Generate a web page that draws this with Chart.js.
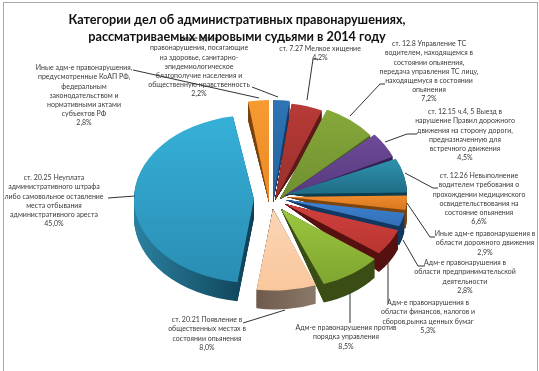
<!DOCTYPE html>
<html lang="ru">
<head>
<meta charset="utf-8">
<title>Категории дел</title>
<script src="https://cdn.jsdelivr.net/npm/chart.js@4/dist/chart.umd.js"></script>
<style>
  html, body { margin: 0; padding: 0; background: #fff; }
  #frame { position: absolute; left: 3px; top: 2px; width: 535px; height: 369px; border: 1px solid #aaa; border-bottom: 0; box-sizing: border-box; }
  canvas { position: absolute; left: 0; top: 0; filter: blur(0.45px); }
</style>
</head>
<body>
<canvas id="pieChart" width="539" height="371"></canvas>
<div id="frame"></div>
<script>
const titleLines = [
  "Категории дел об административных правонарушениях,",
  "рассматриваемых мировыми судьями в 2014 году"
];

const categories = [
  "Иные адм-е правонарушения, посягающие на здоровье, санитарно-эпидемиологическое благополучие населения и общественную нравственность",
  "ст. 7.27 Мелкое хищение",
  "ст. 12.8 Управление ТС водителем, находящемся в состоянии опьянения, передача управления ТС лицу, находящемуся в состоянии опьянения",
  "ст. 12.15 ч.4, 5 Выезд в нарушение Правил дорожного движения на сторону дороги, предназначенную для встречного движения",
  "ст. 12.26 Невыполнение водителем требования о прохождении медицинского освидетельствования на состояние опьянения",
  "Иные адм-е правонарушения в области дорожного движения",
  "Адм-е правонарушения в области предпринимательской деятельности",
  "Адм-е правонарушения в области финансов, налогов и сборов,рынка ценных бумаг",
  "Адм-е правонарушения против порядка управления",
  "ст. 20.21 Появление в общественных местах в состоянии опьянения",
  "ст. 20.25 Неуплата административного штрафа либо самовольное оставление места отбывания административного ареста",
  "Иные адм-е правонарушения, предусмотренные КоАП РФ, федеральным законодательством и нормативными актами субъектов РФ"
];

const shares = [2.2, 4.2, 7.2, 4.5, 6.6, 2.9, 2.8, 5.3, 8.5, 8.0, 45.0, 2.8];

// label text broken the way the original breaks it
const labelLines = [
  ["Иные адм-е", "правонарушения, посягающие", "на здоровье, санитарно-", "эпидемиологическое", "благополучие населения и", "общественную нравственность", "2,2%"],
  ["ст. 7.27 Мелкое хищение", "4,2%"],
  ["ст. 12.8 Управление ТС", "водителем, находящемся в", "состоянии опьянения,", "передача управления ТС лицу,", "находящемуся в состоянии", "опьянения", "7,2%"],
  ["ст. 12.15 ч.4, 5 Выезд в", "нарушение Правил дорожного", "движения на сторону дороги,", "предназначенную для", "встречного движения", "4,5%"],
  ["ст. 12.26 Невыполнение", "водителем требования о", "прохождении медицинского", "освидетельствования на", "состояние опьянения", "6,6%"],
  ["Иные адм-е правонарушения в", "области дорожного движения", "2,9%"],
  ["Адм-е правонарушения в", "области предпринимательской", "деятельности", "2,8%"],
  ["Адм-е правонарушения в", "области финансов, налогов и", "сборов,рынка ценных бумаг", "5,3%"],
  ["Адм-е правонарушения против", "порядка управления", "8,5%"],
  ["ст. 20.21 Появление в", "общественных местах в", "состоянии опьянения", "8,0%"],
  ["ст. 20.25 Неуплата", "административного штрафа", "либо самовольное оставление", "места отбывания", "административного ареста", "45,0%"],
  ["Иные адм-е правонарушения,", "предусмотренные КоАП РФ,", "федеральным", "законодательством и", "нормативными актами", "субъектов РФ", "2,8%"]
];

// colours of each slice: top of face, bottom of face, wall left, wall right
const faceLight = ["#2f74b5", "#b83a36", "#86a93a", "#6d4a96", "#2f93ae", "#f08c2e", "#3f82cf", "#d0403c", "#9cc63f", "#fbd5b5", "#36b0d8", "#f79a32"];
const faceDark  = ["#24609c", "#98302c", "#6f8f30", "#583a80", "#1f6c86", "#d8771f", "#3270b8", "#b83532", "#7fa52f", "#f9c79c", "#2a8db3", "#ea8a26"];
const wallLeft  = ["#153a63", "#5e1a18", "#46601c", "#33204f", "#0e3d4d", "#7c430d", "#123860", "#571010", "#3a4d14", "#6f5b4d", "#2b80a0", "#7a430c"];
const wallRight = ["#153a63", "#5e1a18", "#46601c", "#33204f", "#0e3d4d", "#7c430d", "#123860", "#571010", "#3a4d14", "#8a7868", "#0d4055", "#7a430c"];

// slice geometry, picture px from the chart centre
const shiftX = [1, 3, 8, 12, 15, 15, 14, 13, 9, 1, -18, -3];
const shiftY = [2, 0, -1, -4, -6, -3, 0, 4, 9, 9, -1, 2];
const tilt   = [0.85, 0.81, 0.81, 0.78, 0.70, 0.66, 0.66, 0.66, 0.67, 0.68, 0.70, 0.85];
const depth  = 19;

// label anchors: centre x, first line y
const labelX = [199, 320, 429, 465, 479, 485, 465, 428, 346, 207, 54, 84];
const labelY = [39, 49, 44, 112, 176, 234, 263, 303, 328, 320, 178, 68];
const lineStep = 9.2;

// leader lines, start at the text and end at the slice
const leaderX = [[252, 278], [318, 313, 307], [385, 380, 350], [417, 407, 385], [438, 433, 405], [435, 430, 407], [425, 418, 403], [388, 388], [350, 350], [243, 285], [108, 135], [133, 259]];
const leaderY = [[87, 97], [59, 59, 100], [84, 84, 116], [134, 134, 142], [188, 188, 173], [237, 237, 203], [266, 266, 240], [303, 260], [323, 292], [323, 310], [198, 196], [70, 98]];

const FONT = "Lato, 'Open Sans', sans-serif";

function sliceAngles(arc) {
  return [arc.startAngle, (arc.startAngle + arc.endAngle) / 2, arc.endAngle];
}

function faceGradient(ctx, arc, i) {
  const ys = sliceAngles(arc).map(a => Math.sin(a) * arc.outerRadius);
  const g = ctx.createLinearGradient(0, Math.min(...ys, 0), 0, Math.max(...ys, 0));
  g.addColorStop(0, faceLight[i]);
  g.addColorStop(1, faceDark[i]);
  return g;
}

function wallGradient(ctx, arc, i) {
  const xs = sliceAngles(arc).map(a => Math.cos(a) * arc.outerRadius);
  const g = ctx.createLinearGradient(Math.min(...xs, 0), 0, Math.max(...xs, 0), 0);
  g.addColorStop(0, wallLeft[i]);
  g.addColorStop(1, wallRight[i]);
  return g;
}

function drawArcAs(arc, ctx, color) {
  const keep = arc.options;
  arc.options = Object.assign({}, keep, { backgroundColor: color });
  // the arc is drawn around its own x,y, the context is already placed
  const x = arc.x, y = arc.y;
  arc.x = 0;
  arc.y = 0;
  arc.draw(ctx);
  arc.x = x;
  arc.y = y;
  arc.options = keep;
}

// tilts the pie and gives it a wall, the way the 3D chart in the picture looks
const tiltedPie = {
  id: "tiltedPie",
  beforeDatasetDraw(chart) {
    const ctx = chart.ctx;
    const arcs = chart.getDatasetMeta(0).data;

    arcs.forEach((arc, i) => {
      const R = arc.outerRadius;
      const mid = (arc.startAngle + arc.endAngle) / 2;
      const wide = arc.endAngle - arc.startAngle > Math.PI / 2;
      for (let step = 24; step > 0; step--) {
        const d = depth * step / 24;
        ctx.save();
        if (wide) {
          ctx.transform(1, 0, 0, tilt[i], arc.x + shiftX[i], arc.y + shiftY[i] + d);
        } else {
          ctx.transform(1, d * Math.cos(mid) / R, 0, tilt[i] + d * Math.sin(mid) / R, arc.x + shiftX[i], arc.y + shiftY[i]);
        }
        drawArcAs(arc, ctx, wallGradient(ctx, arc, i));
        ctx.restore();
      }
    });

    arcs.forEach((arc, i) => {
      ctx.save();
      ctx.transform(1, 0, 0, tilt[i], arc.x + shiftX[i], arc.y + shiftY[i]);
      drawArcAs(arc, ctx, faceGradient(ctx, arc, i));
      ctx.restore();
    });
    return false;
  }
};

const textLayer = {
  id: "textLayer",
  afterDraw(chart) {
    const ctx = chart.ctx;
    ctx.save();
    ctx.textAlign = "center";
    ctx.textBaseline = "middle";

    ctx.strokeStyle = "#333";
    ctx.lineWidth = 1;
    leaderX.forEach((xs, i) => {
      ctx.beginPath();
      xs.forEach((x, k) => k ? ctx.lineTo(x, leaderY[i][k]) : ctx.moveTo(x, leaderY[i][k]));
      ctx.stroke();
    });

    ctx.fillStyle = "#3a3a3a";
    ctx.font = "7px " + FONT;
    labelLines.forEach((lines, i) => {
      lines.forEach((line, k) => ctx.fillText(line, labelX[i], labelY[i] + k * lineStep));
    });

    ctx.fillStyle = "#111";
    ctx.font = "bold 12.7px " + FONT;
    ctx.fillText(titleLines[0], 237, 20);
    ctx.fillText(titleLines[1], 237, 37);
    ctx.restore();
  }
};

new Chart(document.getElementById("pieChart"), {
  type: "pie",
  data: {
    labels: categories,
    datasets: [{ data: shares, borderWidth: 0, backgroundColor: faceLight }]
  },
  options: {
    responsive: false,
    animation: false,
    radius: 120,
    rotation: 0,
    layout: { padding: { left: 5, top: 29 } },
    plugins: {
      legend: { display: false },
      tooltip: { enabled: false }
    }
  },
  plugins: [tiltedPie, textLayer]
});
</script>
</body>
</html>
